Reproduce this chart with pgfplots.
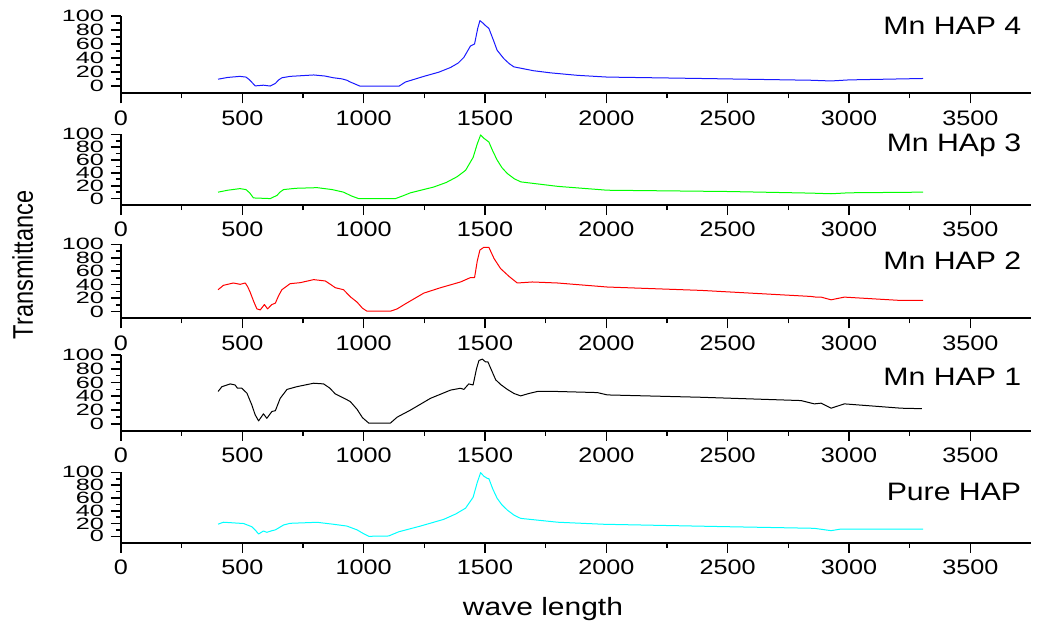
\documentclass[border=0pt]{standalone}
\usepackage{fontspec}
\setmainfont{Liberation Sans}[FakeStretch=1.2]
\newfontfamily\rotfont{Liberation Sans}[FakeStretch=0.83]
\usepackage{pgfplots}
\pgfplotsset{compat=1.18}
\definecolor{cyn}{rgb}{0,1,1}
\definecolor{grn}{rgb}{0,1,0}
\definecolor{blu}{rgb}{0.1,0.1,1}

\pgfplotsset{panel/.style={
    scale only axis, width=455pt,
    xmin=0, xmax=3750, ymin=-10, ymax=100,
    axis x line*=bottom, axis y line*=left,
    axis line style={line width=1pt,-},
    xtick={0,500,...,3500}, minor x tick num=1,
    ytick={0,20,...,100}, minor y tick num=1,
    tick align=outside, major tick length=5pt, minor tick length=2.5pt,
    every tick/.style={black, line width=0.8pt},
    tick label style={font=\fontsize{10.5}{10.5}\selectfont},
    yticklabel style={yscale=0.78},
    /pgf/number format/assume math mode=true,
    /pgf/number format/1000 sep={},
    clip=false,
  },
  curve/.style={line width=0.5pt, no markers, line join=round},
}
\tikzset{tag/.style={anchor=east, font=\fontsize{12.6}{12.6}\selectfont}}

\begin{document}
\begin{tikzpicture}
  \path (-60.5pt,-39.65pt) rectangle (458.5pt,271.35pt);

  % Mn HAP 4
  \begin{axis}[panel, height=38.8pt, at={(0pt,224.7pt)}, anchor=south west]
    \addplot[curve, blu] coordinates {(400,10) (440,12.5) (490,14) (515,13) (530,9) (553,0.5) (570,1) (587,1.5) (615,0.3) (636,4) (650,9) (663,12) (697,14) (794,16) (840,14.5) (876,12) (910,10.5) (931,8.5) (945,6) (986,0) (1145,0) (1172,6) (1248,14) (1310,20) (1358,26.6) (1390,33) (1413,41) (1440,57) (1457,60) (1470,82) (1479,93) (1490,90) (1502,86) (1516,82) (1535,65) (1550,51) (1578,39) (1600,32) (1619,27.5) (1700,22) (1770,19) (1880,15.5) (2004,13) (2390,11) (2843,8.5) (2926,7.5) (3000,9) (3305,11)};
    \node[tag] at (rel axis cs:0.997,0.874) {Mn HAP 4};
  \end{axis}

  % Mn HAp 3
  \begin{axis}[panel, height=35.35pt, at={(0pt,168.85pt)}, anchor=south west]
    \addplot[curve, grn] coordinates {(400,10) (440,13) (490,15.5) (515,14) (530,9) (546,1) (615,0) (643,5) (655,10) (670,14) (720,16) (808,17) (870,14) (917,10) (950,4) (979,0) (1131,0) (1160,4) (1193,9) (1289,18) (1340,25) (1385,34) (1420,44) (1451,64) (1468,85) (1482,99) (1495,94) (1509,90) (1516,88) (1532,74) (1550,60) (1570,48) (1592,39) (1620,31) (1647,26) (1800,19) (2004,13) (2500,11) (2843,8.5) (2926,7.5) (3000,9) (3305,10)};
    \node[tag] at (rel axis cs:0.997,0.85) {Mn HAp 3};
  \end{axis}

  % Mn HAP 2
  \begin{axis}[panel, height=37pt, at={(0pt,112.2pt)}, anchor=south west]
    \addplot[curve, red] coordinates {(400,32.5) (422,39) (463,42.5) (491,40.5) (512,42.5) (522,37) (532,29) (548,14) (560,4) (574,2.5) (591,10.5) (604,4) (622,10.5) (636,12.5) (650,24) (663,32.5) (697,41.5) (739,43) (794,47.5) (842,45.5) (865,40) (883,35.5) (917,32.5) (945,22) (973,14) (995,5) (1014,0.5) (1110,0.5) (1138,4) (1172,11.5) (1248,27.5) (1317,35.5) (1399,44) (1440,50.5) (1457,50.5) (1468,75) (1479,91.5) (1495,95.5) (1516,95.5) (1537,79) (1564,64) (1600,52) (1633,42.5) (1695,44) (1798,42.5) (2004,36.5) (2390,31.5) (2843,22.5) (2864,21.5) (2885,21.5) (2926,17.5) (2981,21.5) (3215,16.5) (3305,16.5)};
    \node[tag] at (rel axis cs:0.997,0.774) {Mn HAP 2};
  \end{axis}

  % Mn HAP 1
  \begin{axis}[panel, height=37.85pt, at={(0pt,56pt)}, anchor=south west]
    \addplot[curve, black] coordinates {(400,47) (416,54) (450,58) (470,56.5) (480,51.7) (498,51.7) (519,44.5) (539,27.5) (553,13) (567,4.3) (587,14.5) (601,8) (622,18) (636,19) (656,37) (684,50) (725,54) (794,59) (835,58) (860,52) (883,43.5) (931,35) (945,32.3) (973,21) (995,9) (1021,1) (1110,1) (1138,9.7) (1193,20) (1275,37) (1358,49) (1399,51.7) (1413,50) (1433,58) (1451,56.5) (1465,80) (1475,92) (1489,94) (1502,90) (1512,90) (1528,77) (1544,64) (1565,57) (1592,50) (1620,44) (1647,40.6) (1680,44) (1716,47) (1798,47) (1963,45.4) (2004,42) (2390,38.6) (2802,33.8) (2857,29) (2885,30) (2926,22.7) (2981,29) (3215,22.7) (3300,22)};
    \node[tag] at (rel axis cs:0.997,0.71) {Mn HAP 1};
  \end{axis}

  % Pure HAP
  \begin{axis}[panel, height=35.2pt, at={(0pt,0pt)}, anchor=south west]
    \addplot[curve, cyn] coordinates {(400,19) (422,22) (463,21) (505,20) (539,15) (555,9) (567,3.6) (587,8.3) (601,6.2) (622,8.8) (636,10) (670,17.7) (697,20.3) (808,21.9) (876,18.8) (931,16) (973,10) (1000,4) (1021,0) (1103,0.5) (1144,7) (1234,16) (1330,26.5) (1380,35) (1420,44) (1451,61) (1468,84) (1482,99.5) (1495,94) (1509,90.6) (1516,90) (1532,74) (1550,59.4) (1570,49) (1592,41) (1620,33) (1647,28) (1800,22) (1990,18.8) (2500,15) (2857,12.5) (2926,8.8) (2967,11.4) (3305,11.4)};
    \node[tag] at (rel axis cs:0.997,0.714) {Pure HAP};
  \end{axis}

  \node[anchor=base, rotate=90, font=\rotfont\fontsize{14.2}{14.2}\selectfont] at (-44pt,138.85pt) {Transmittance};
  \node[anchor=base, font=\fontsize{12.5}{12.5}\selectfont] at (211pt,-36.15pt) {wave length};
\end{tikzpicture}
\end{document}
